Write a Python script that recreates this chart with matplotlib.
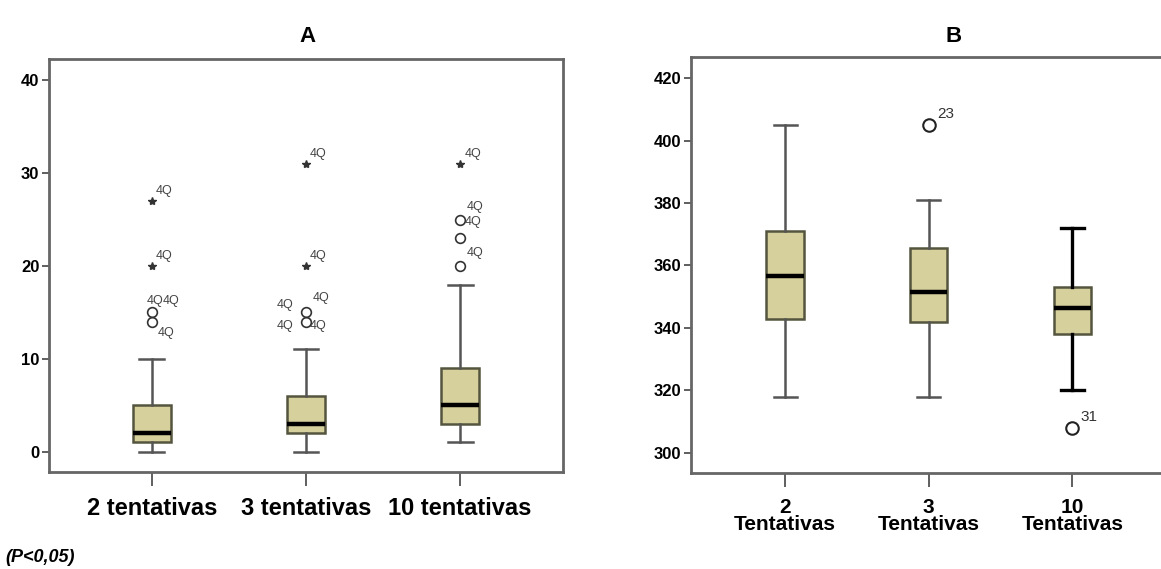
import matplotlib
matplotlib.use("Agg")
import matplotlib.pyplot as plt

plt.rcParams['font.family'] = ['Liberation Sans', 'DejaVu Sans']

# panel A: number of attempts
labels_a = ["2 tentativas", "3 tentativas", "10 tentativas"]
whislo_a = [0, 0, 1]
q1_a = [1, 2, 3]
med_a = [2, 3, 5]
q3_a = [5, 6, 9]
whishi_a = [10, 11, 18]
circles_a = [[15, 14], [15, 14], [25, 23, 20]]
stars_a = [[27, 20], [31, 20], [31]]
# case labels: (group, value, x offset pts, y offset pts)
case_labels_a = [
    (1, 27, 3, 5), (1, 20, 3, 5), (1, 15, -4, 6), (1, 15, 8, 6), (1, 14, 4, -10),
    (2, 31, 3, 5), (2, 20, 3, 5), (2, 15, 5, 8), (2, 15, -21, 3), (2, 14, -21, -5), (2, 14, 3, -5),
    (3, 31, 3, 5), (3, 25, 5, 7), (3, 25, 3, -4), (3, 20, 5, 7),
]
case_text_a = "4Q"

# panel B
labels_b = ["2\nTentativas", "3\nTentativas", "10\nTentativas"]
whislo_b = [318, 318, 320]
q1_b = [343, 342, 338]
med_b = [356.5, 351.5, 346.5]
q3_b = [371, 365.5, 353]
whishi_b = [405, 381, 372]
outliers_b = [[], [405], [308]]
case_labels_b = [(2, 405, "23"), (3, 308, "31")]

fill = "#d6d09c"
edge = "#55553f"

fig = plt.figure(figsize=(11.61, 5.69), dpi=100)
W, H = 1161, 569
ax1 = fig.add_axes([49 / W, 1 - 472 / H, (563 - 49) / W, (472 - 59) / H])
ax2 = fig.add_axes([691 / W, 1 - 473 / H, (1180 - 691) / W, (473 - 57) / H])


def draw(ax, lo, q1, med, q3, hi, widths, dark):
    stats = []
    for i in range(3):
        stats.append(dict(whislo=lo[i], q1=q1[i], med=med[i], q3=q3[i], whishi=hi[i], fliers=[]))
    bp = ax.bxp(stats, positions=[1, 2, 3], widths=widths, patch_artist=True,
                boxprops=dict(facecolor=fill, edgecolor=edge, linewidth=1.8),
                medianprops=dict(color="black", linewidth=3.2),
                whiskerprops=dict(color="#555555", linewidth=1.8),
                capprops=dict(color="#555555", linewidth=1.8),
                capwidths=0.16)
    for k in dark:
        for art in bp['whiskers'][2 * k:2 * k + 2] + bp['caps'][2 * k:2 * k + 2]:
            art.set_color("black")
            art.set_linewidth(2.4)
    return bp


draw(ax1, whislo_a, q1_a, med_a, q3_a, whishi_a, 0.25, [])
for i in range(3):
    ax1.plot([i + 1] * len(circles_a[i]), circles_a[i], 'o', mfc='none', mec='#333333', ms=7, mew=1.2)
    ax1.plot([i + 1] * len(stars_a[i]), stars_a[i], '*', color='#333333', ms=6)
for g, v, dx, dy in case_labels_a:
    ax1.annotate(case_text_a, (g, v), xytext=(dx, dy), textcoords='offset points',
                 fontsize=9, color='#444444')
ax1.set_xlim(0.333, 3.667)
ax1.set_ylim(-2.2, 42.3)
ax1.set_yticks([0, 10, 20, 30, 40])
ax1.set_xticks([1, 2, 3])
ax1.set_xticklabels(labels_a, fontsize=17, fontweight='bold')

draw(ax2, whislo_b, q1_b, med_b, q3_b, whishi_b, 0.26, [2])
for i in range(3):
    ax2.plot([i + 1] * len(outliers_b[i]), outliers_b[i], 'o', mfc='none', mec='#222222', ms=9, mew=1.5)
for g, v, t in case_labels_b:
    ax2.annotate(t, (g, v), xytext=(6, 5), textcoords='offset points',
                 fontsize=11, color='#333333')
ax2.set_xlim(0.345, 3.75)
ax2.set_ylim(293.5, 426.8)
ax2.set_yticks([300, 320, 340, 360, 380, 400, 420])
ax2.set_xticks([1, 2, 3])
ax2.set_xticklabels(labels_b, fontsize=15, fontweight='bold', linespacing=0.85)

for ax in (ax1, ax2):
    for s in ax.spines.values():
        s.set_color("#666666")
        s.set_linewidth(2)
    ax.tick_params(axis='y', length=5, width=1.2, color='#444444', labelsize=12, pad=2)
    ax.tick_params(axis='x', length=10, width=1.2, color='#444444', pad=8)
    for t in ax.get_yticklabels():
        t.set_fontweight('bold')

# panel titles
fig.text(308 / W, 1 - 36 / H, "A", fontsize=16, fontweight='bold', ha='center', va='center')
fig.text(954 / W, 1 - 36 / H, "B", fontsize=16, fontweight='bold', ha='center', va='center')

fig.text(5 / W, 1 - 557 / H, "(P<0,05)", fontsize=13, fontweight='bold', style='italic', va='center')

fig.savefig("out.png", dpi=100)
